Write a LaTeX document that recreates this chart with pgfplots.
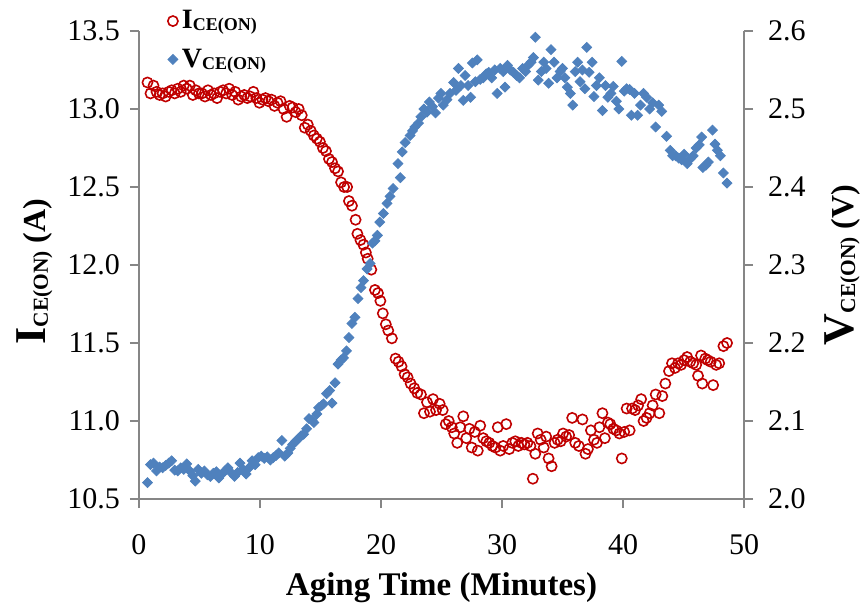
\documentclass[border=0pt]{standalone}
\usepackage{fontspec}
\setmainfont{Liberation Serif}
\usepackage{pgfplots}
\pgfplotsset{compat=1.18}
\definecolor{cred}{RGB}{192,0,0}
\definecolor{cblue}{RGB}{79,129,189}
\definecolor{axgray}{RGB}{134,134,134}
\pgfplotsset{
 base/.style={
  width=302.5pt, height=234pt, scale only axis,
  xmin=0, xmax=50,
  axis line style={axgray, line width=0.6pt},
  major tick style={axgray, line width=0.6pt},
  major tick length=4.5pt,
  tick align=outside,
  ticklabel style={font=\fontsize{15}{18}\selectfont},
  /pgf/number format/assume math mode=true,
  clip=false,
 },
}
\newcommand{\bigsub}[3]{{\fontsize{22}{26}\selectfont #1}\raisebox{-1pt}{\fontsize{10.7}{12}\selectfont #2}\hspace{4pt}#3}
\newcommand{\legsub}[2]{#1\raisebox{-1pt}{\fontsize{9}{10}\selectfont #2}}
\pgfplotstableread{
x y
0.7 13.17
0.95 13.10
1.2 13.15
1.45 13.11
1.7 13.09
1.95 13.10
2.2 13.08
2.45 13.11
2.7 13.12
2.95 13.10
3.2 13.13
3.45 13.11
3.7 13.15
3.95 13.13
4.2 13.15
4.45 13.09
4.7 13.12
4.95 13.10
5.2 13.10
5.45 13.08
5.7 13.12
5.95 13.09
6.2 13.10
6.45 13.07
6.7 13.11
6.95 13.12
7.2 13.10
7.45 13.13
7.7 13.09
7.95 13.11
8.2 13.06
8.45 13.08
8.7 13.09
8.95 13.07
9.2 13.08
9.45 13.11
9.7 13.07
9.95 13.04
10.2 13.06
10.45 13.07
10.7 13.05
10.95 13.06
11.2 13.02
11.45 13.04
11.7 13.05
11.95 13.00
12.2 12.95
12.45 13.02
12.7 13.01
12.95 12.98
13.2 13.00
13.45 12.96
13.7 12.88
13.95 12.90
14.2 12.86
14.45 12.83
14.7 12.81
14.95 12.79
15.2 12.75
15.45 12.73
15.7 12.68
15.95 12.66
16.2 12.62
16.45 12.60
16.7 12.53
16.95 12.50
17.2 12.50
17.35 12.41
17.6 12.38
17.9 12.29
18.05 12.20
18.3 12.16
18.55 12.13
18.75 12.08
18.9 12.04
19.2 11.97
19.5 11.84
19.75 11.82
19.95 11.77
20.15 11.69
20.4 11.62
20.6 11.58
20.9 11.53
21.2 11.40
21.45 11.38
21.7 11.35
21.95 11.30
22.2 11.28
22.45 11.24
22.75 11.21
23.0 11.18
23.3 11.17
23.55 11.05
23.8 11.12
24.05 11.06
24.3 11.14
24.55 11.07
24.85 11.11
25.1 11.07
25.35 10.98
25.6 11.00
25.85 10.96
26.05 10.92
26.3 10.86
26.55 10.96
26.8 11.03
27.05 10.89
27.3 10.95
27.5 10.83
27.75 10.93
28.0 10.81
28.2 10.97
28.45 10.89
28.7 10.87
28.95 10.86
29.2 10.84
29.45 10.83
29.65 10.96
29.85 10.81
30.1 10.84
30.35 10.98
30.6 10.82
30.85 10.86
31.1 10.87
31.35 10.84
31.6 10.86
31.85 10.85
32.1 10.86
32.35 10.84
32.55 10.63
32.75 10.79
32.95 10.92
33.2 10.88
33.45 10.83
33.65 10.90
33.85 10.76
34.1 10.71
34.35 10.86
34.6 10.88
34.85 10.87
35.05 10.92
35.3 10.90
35.55 10.91
35.8 11.02
36.05 10.86
36.35 10.84
36.65 11.01
36.9 10.79
37.1 10.82
37.35 10.94
37.6 10.88
37.85 10.86
38.05 10.96
38.3 11.05
38.5 10.89
38.75 10.99
38.95 10.98
39.2 10.95
39.45 10.94
39.7 10.92
39.9 10.76
40.1 10.93
40.3 11.08
40.55 10.94
40.75 11.08
41.0 11.07
41.25 11.10
41.5 11.14
41.7 11.00
41.95 11.02
42.2 11.05
42.45 11.10
42.7 11.17
43.0 11.05
43.25 11.16
43.5 11.24
43.8 11.32
44.05 11.37
44.3 11.34
44.55 11.37
44.8 11.36
45.05 11.39
45.3 11.41
45.55 11.38
45.8 11.37
46.05 11.36
46.2 11.29
46.45 11.42
46.55 11.24
46.8 11.40
47.0 11.39
47.25 11.38
47.45 11.23
47.7 11.36
47.95 11.37
48.3 11.48
48.6 11.50
}\icedata
\pgfplotstableread{
x y
0.7 2.021
0.95 2.044
1.2 2.046
1.45 2.036
1.7 2.041
1.95 2.040
2.2 2.043
2.45 2.046
2.7 2.049
2.95 2.037
3.2 2.036
3.45 2.040
3.7 2.038
3.95 2.045
4.2 2.036
4.45 2.030
4.65 2.023
4.9 2.038
5.15 2.033
5.4 2.036
5.65 2.031
5.9 2.029
6.15 2.033
6.4 2.035
6.6 2.027
6.85 2.032
7.1 2.036
7.35 2.040
7.6 2.034
7.9 2.029
8.15 2.034
8.35 2.046
8.6 2.038
8.85 2.032
9.1 2.040
9.35 2.049
9.6 2.044
9.85 2.053
10.1 2.055
10.35 2.052
10.6 2.054
10.85 2.050
11.1 2.053
11.35 2.056
11.55 2.059
11.8 2.075
12.05 2.055
12.3 2.059
12.5 2.065
12.7 2.070
12.95 2.074
13.15 2.077
13.4 2.081
13.6 2.083
13.85 2.090
14.05 2.103
14.3 2.101
14.45 2.098
14.7 2.109
14.85 2.117
15.1 2.120
15.25 2.122
15.5 2.135
15.75 2.139
15.95 2.123
16.2 2.149
16.45 2.173
16.7 2.178
16.9 2.181
17.15 2.190
17.35 2.207
17.6 2.225
17.85 2.233
18.1 2.257
18.35 2.271
18.55 2.280
18.85 2.295
19.1 2.302
19.3 2.328
19.5 2.331
19.7 2.338
19.9 2.355
20.2 2.366
20.5 2.379
20.75 2.388
21.0 2.398
21.4 2.430
21.6 2.412
21.75 2.445
22.0 2.457
22.4 2.466
22.6 2.472
22.8 2.477
23.1 2.482
23.3 2.490
23.55 2.500
23.8 2.496
24.0 2.509
24.25 2.503
24.5 2.495
24.75 2.514
24.95 2.520
25.15 2.505
25.45 2.512
25.7 2.520
26.0 2.534
26.2 2.524
26.4 2.552
26.6 2.530
26.8 2.511
26.95 2.543
27.2 2.530
27.4 2.515
27.55 2.559
27.8 2.535
27.95 2.563
28.2 2.538
28.45 2.540
28.7 2.545
28.9 2.547
29.15 2.540
29.4 2.550
29.6 2.520
29.85 2.552
30.1 2.548
30.25 2.528
30.45 2.556
30.7 2.550
30.95 2.547
31.2 2.543
31.45 2.540
31.7 2.552
31.95 2.548
32.15 2.556
32.4 2.560
32.6 2.566
32.75 2.592
33.0 2.537
33.25 2.548
33.45 2.560
33.65 2.552
33.85 2.533
34.05 2.576
34.3 2.560
34.55 2.540
34.8 2.548
35.0 2.552
35.2 2.540
35.4 2.528
35.65 2.520
35.85 2.505
36.05 2.548
36.25 2.560
36.45 2.535
36.65 2.550
36.85 2.526
37.0 2.579
37.2 2.547
37.45 2.560
37.6 2.516
37.8 2.530
38.05 2.540
38.3 2.498
38.55 2.530
38.75 2.515
39.0 2.520
39.2 2.529
39.45 2.510
39.65 2.500
39.9 2.561
40.1 2.523
40.3 2.526
40.55 2.525
40.7 2.492
40.95 2.520
41.2 2.492
41.45 2.505
41.7 2.520
41.95 2.515
42.2 2.500
42.45 2.508
42.7 2.477
42.95 2.505
43.2 2.497
43.6 2.465
43.9 2.447
44.1 2.440
44.35 2.440
44.6 2.437
44.85 2.435
45.05 2.442
45.3 2.430
45.55 2.436
45.8 2.440
46.05 2.450
46.3 2.454
46.5 2.464
46.6 2.425
46.85 2.428
47.05 2.432
47.4 2.473
47.6 2.455
47.8 2.447
48.05 2.440
48.3 2.418
48.6 2.405
}\vcedata
\begin{document}
\begin{tikzpicture}
\path[use as bounding box] (-69.5pt,-54pt) rectangle (364pt,249.5pt);
\begin{axis}[base,
  axis x line*=bottom, axis y line*=left,
  ymin=10.5, ymax=13.5,
  xtick={0,10,20,30,40,50},
  ytick={10.5,11,11.5,12,12.5,13,13.5},
  yticklabel style={/pgf/number format/fixed, /pgf/number format/fixed zerofill, /pgf/number format/precision=1, xshift=-1.5pt},
  xticklabel style={yshift=-9.5pt},
  xlabel={Aging Time (Minutes)},
  xlabel style={font=\bfseries\fontsize{16.5}{19}\selectfont, at={(axis description cs:0.5,-0.19)}, anchor=center},
  ylabel={\bigsub{I}{CE(ON)}{(A)}},
  ylabel style={font=\bfseries\fontsize{16}{19}\selectfont, at={(axis description cs:-0.172,0.486)}, anchor=center},
]
\addplot[only marks, mark=o, cred, mark size=2.55pt, mark options={line width=0.8pt}] table[x=x, y=y] {\icedata};
\end{axis}
\begin{axis}[base,
  axis x line=none, axis y line*=right,
  ymin=2.0, ymax=2.6,
  ytick={2.0,2.1,2.2,2.3,2.4,2.5,2.6},
  yticklabel style={/pgf/number format/fixed, /pgf/number format/fixed zerofill, /pgf/number format/precision=1, xshift=4pt},
  ylabel={\bigsub{V}{CE(ON)}{(V)}},
  ylabel style={font=\bfseries\fontsize{16}{19}\selectfont, at={(axis description cs:1.162,0.5)}, anchor=center},
  legend style={at={(axis description cs:0.037,1.062)}, anchor=north west, draw=none, fill=none, row sep=4.5pt, font=\bfseries\fontsize{14}{17}\selectfont},
  legend cell align=left,
  legend image code/.code={\draw[#1] plot coordinates {(0pt,0pt)};},
]
\addlegendimage{only marks, mark=o, cred, mark size=2.55pt, mark options={line width=0.8pt}}
\addlegendentry{\legsub{I}{CE(ON)}}
\addplot[only marks, mark=square*, cblue, mark size=1.75pt, mark options={rotate=45}] table[x=x, y=y] {\vcedata};
\addlegendentry{\legsub{V}{CE(ON)}}
\end{axis}
\end{tikzpicture}
\end{document}
